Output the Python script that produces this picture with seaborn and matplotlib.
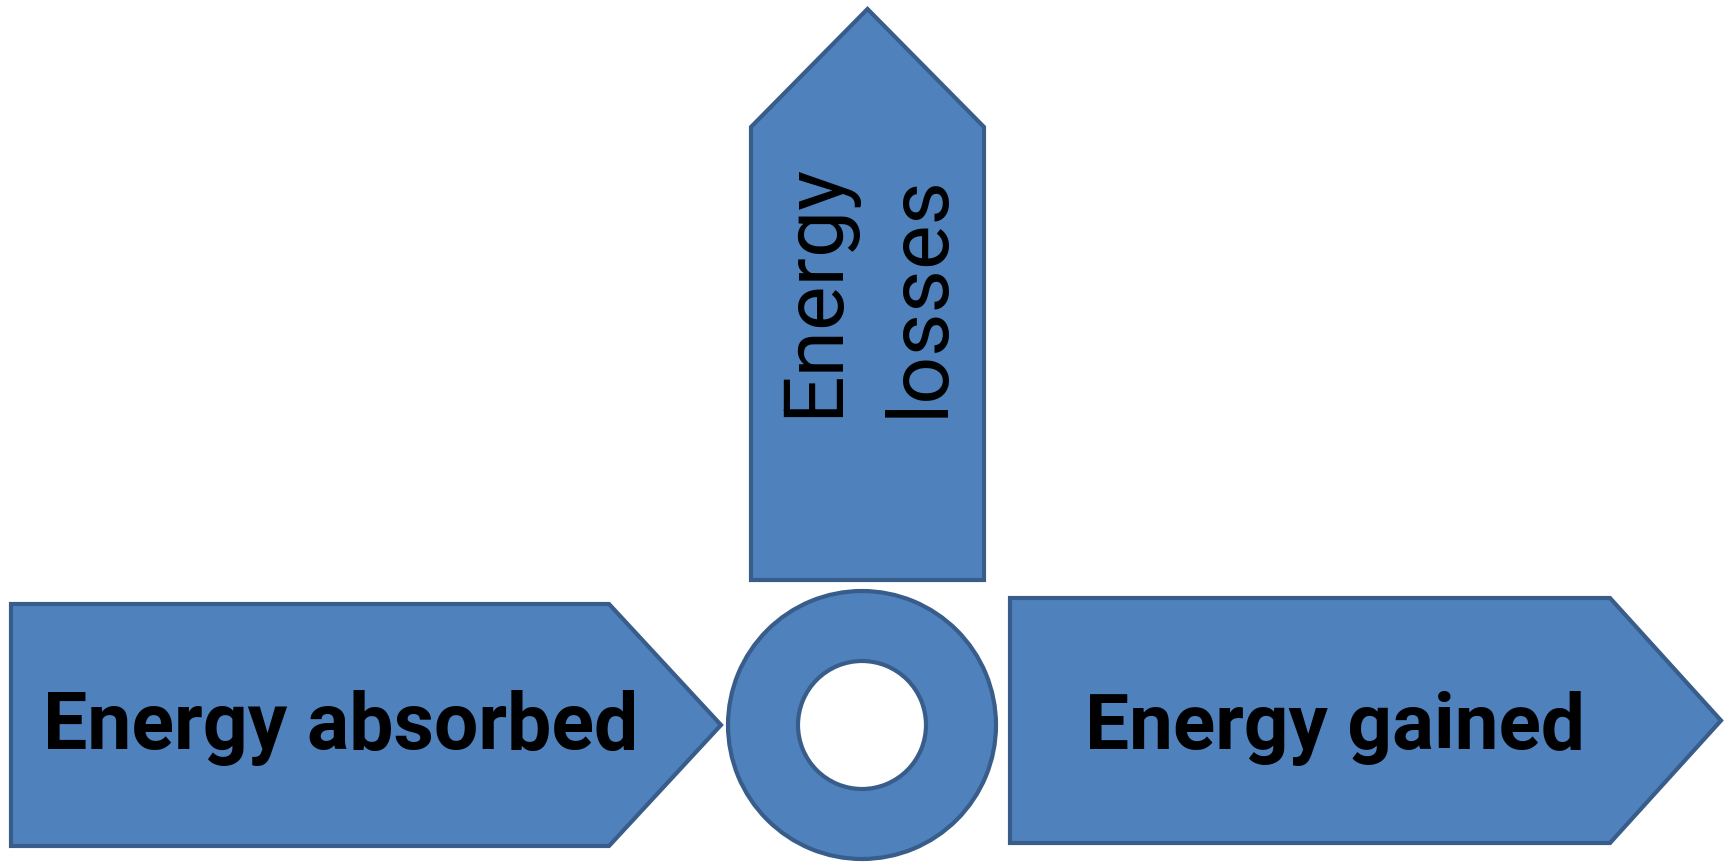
import matplotlib
matplotlib.use("Agg")
import matplotlib.pyplot as plt
from matplotlib.patches import Polygon, Wedge
import seaborn as sns

# labels
side_labels = ["Energy absorbed", "Energy gained"]
top_label_lines = ["Energy", "losses"]

# colours
fill_color = "#4F81BD"
edge_color = "#385D8A"

sns.set_style("white")
plt.rcParams['font.family'] = ['Roboto', 'DejaVu Sans']

W, H = 1727, 865
fig = plt.figure(figsize=(W / 100, H / 100), dpi=100)
ax = fig.add_axes([0, 0, 1, 1])
ax.set_xlim(0, W)
ax.set_ylim(H, 0)
ax.axis('off')


def arrow_right(x0, x1, shoulder, y0, y1):
    ym = (y0 + y1) / 2
    return [(x0, y0), (shoulder, y0), (x1, ym), (shoulder, y1), (x0, y1)]


def arrow_up(x0, x1, tip, shoulder, bottom):
    xm = (x0 + x1) / 2
    return [(x0, bottom), (x0, shoulder), (xm, tip), (x1, shoulder), (x1, bottom)]


style = dict(facecolor=fill_color, edgecolor=edge_color, linewidth=3, joinstyle='miter')

# left / right arrows
ax.add_patch(Polygon(arrow_right(11, 721, 609, 604, 846), closed=True, **style))
ax.add_patch(Polygon(arrow_right(1010, 1721, 1610, 598, 843), closed=True, **style))
# top arrow
ax.add_patch(Polygon(arrow_up(751, 984, 9, 127, 580), closed=True, **style))
# ring
ax.add_patch(Wedge((862, 725), 134, 0, 360, width=70, **style))

# side texts, sized to the reference widths
side_pos = [(341, 749, 595), (1335, 749, 501)]
texts = []
for lab, (x, y, w) in zip(side_labels, side_pos):
    t = ax.text(x, y, lab, ha='center', va='baseline', fontsize=52,
                fontweight='bold', color='black')
    texts.append((t, w, 'w'))

top_pos = [(837, 417, 254), (943, 417, 228)]
for lab, (x, y, h) in zip(top_label_lines, top_pos):
    t = ax.text(x, y, lab, rotation=90, rotation_mode='anchor', ha='left',
                va='baseline', fontsize=64, color='black')
    texts.append((t, h, 'h'))

fig.canvas.draw()
r = fig.canvas.get_renderer()
# fit sizes; keep both top lines the same size
t, h, _ = texts[2]
scale_top = h / t.get_window_extent(r).height
for t, target, kind in texts:
    if kind == 'w':
        t.set_fontsize(t.get_fontsize() * target / t.get_window_extent(r).width)
    else:
        t.set_fontsize(t.get_fontsize() * scale_top)

fig.savefig("out.png", dpi=100, facecolor='white')
